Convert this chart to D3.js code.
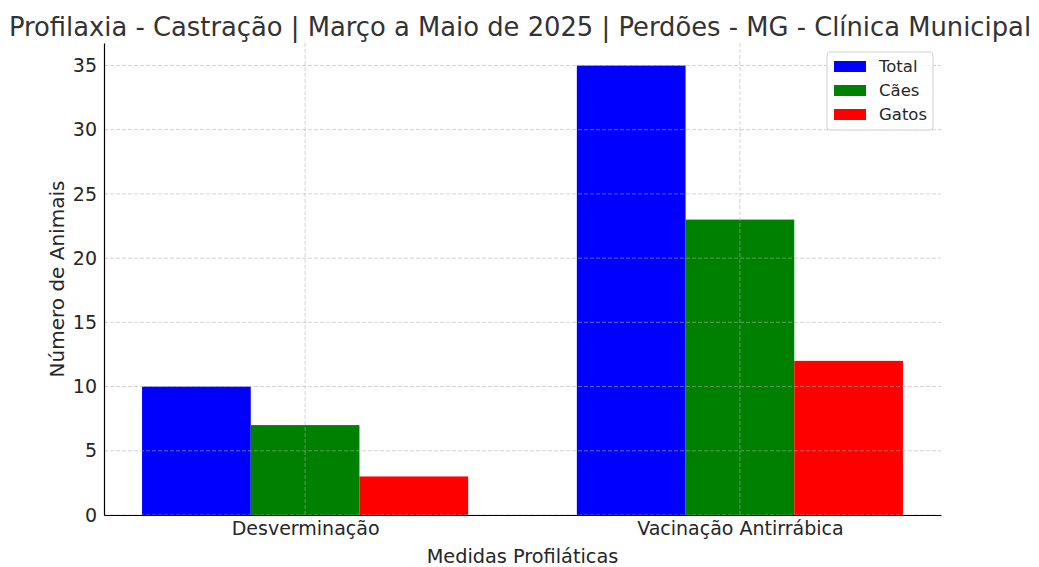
<!DOCTYPE html>
<html><head><meta charset="utf-8">
<script src="https://cdn.jsdelivr.net/npm/d3@7"></script>
<style>body{margin:0;background:#fff;} text{font-family:"DejaVu Sans",sans-serif;fill:#262626;}</style>
</head><body><svg id="c" width="1039" height="567"></svg>
<script>
const categories = ["Desverminação", "Vacinação Antirrábica"];
const seriesNames = ["Total", "Cães", "Gatos"];
const seriesColors = ["#0000ff", "#008000", "#ff0000"];
const totalValues = [10, 35];
const caesValues = [7, 23];
const gatosValues = [3, 12];
const yTicks = [0, 5, 10, 15, 20, 25, 30, 35];
const title = "Profilaxia - Castração | Março a Maio de 2025 | Perdões - MG - Clínica Municipal";
const xLabel = "Medidas Profiláticas";
const yLabel = "Número de Animais";

const series = [totalValues, caesValues, gatosValues];
const svg = d3.select("#c");
const L = 104, R = 941, T = 43, B = 515;
const barW = 0.25;
const x = d3.scaleLinear().domain([-0.4625, 1.4625]).range([L, R]);
const y = d3.scaleLinear().domain([0, 36.75]).range([B, T]);

// bars
series.forEach((vals, si) => {
  svg.append("g").selectAll("rect").data(vals).join("rect")
    .attr("x", (d, i) => x(i + (si - 1) * barW - barW / 2))
    .attr("width", x(barW) - x(0))
    .attr("y", d => y(d))
    .attr("height", d => y(0) - y(d))
    .attr("fill", seriesColors[si]);
});

// grid on top
const grid = svg.append("g").attr("stroke", "#b0b0b0").attr("stroke-opacity", 0.7).attr("stroke-dasharray", "4,2").attr("stroke-width", 0.8);
yTicks.forEach(t => grid.append("line").attr("x1", L).attr("x2", R).attr("y1", y(t)).attr("y2", y(t)));
categories.forEach((c, i) => grid.append("line").attr("x1", x(i)).attr("x2", x(i)).attr("y1", T).attr("y2", B));

// axes
const yAxis = d3.axisLeft(y).tickValues(yTicks).tickSize(0).tickPadding(7).tickFormat(d3.format("d"));
const gy = svg.append("g").attr("transform", `translate(${L},0)`).call(yAxis);
gy.select(".domain").attr("stroke", "#000").attr("stroke-width", 1.2);
gy.selectAll("text").attr("font-size", 19).style("fill", "#262626");

const xAxis = d3.axisBottom(x).tickValues([0, 1]).tickSize(0).tickPadding(7).tickFormat(i => categories[i]);
const gx = svg.append("g").attr("transform", `translate(0,${B})`).call(xAxis);
gx.select(".domain").attr("stroke", "#000").attr("stroke-width", 1.2);
gx.selectAll("text").attr("font-size", 19).style("fill", "#262626");

// labels
svg.append("text").attr("x", 520).attr("y", 36).attr("text-anchor", "middle").attr("font-size", 25.8).style("fill", "#333").text(title);
svg.append("text").attr("x", (L + R) / 2).attr("y", 563).attr("text-anchor", "middle").attr("font-size", 19.3).text(xLabel);
svg.append("text").attr("transform", `translate(64,${(T + B) / 2}) rotate(-90)`).attr("text-anchor", "middle").attr("font-size", 20).text(yLabel);

// legend
const lg = svg.append("g");
lg.append("rect").attr("x", 827).attr("y", 52).attr("width", 106).attr("height", 78).attr("rx", 3)
  .attr("fill", "#fff").attr("fill-opacity", 0.8).attr("stroke", "#d0d0d0");
seriesNames.forEach((n, i) => {
  const yy = 66 + i * 24;
  lg.append("rect").attr("x", 834).attr("y", yy - 5).attr("width", 32).attr("height", 11).attr("fill", seriesColors[i]);
  lg.append("text").attr("x", 879).attr("y", yy + 6).attr("font-size", 16.5).text(n);
});
</script></body></html>
